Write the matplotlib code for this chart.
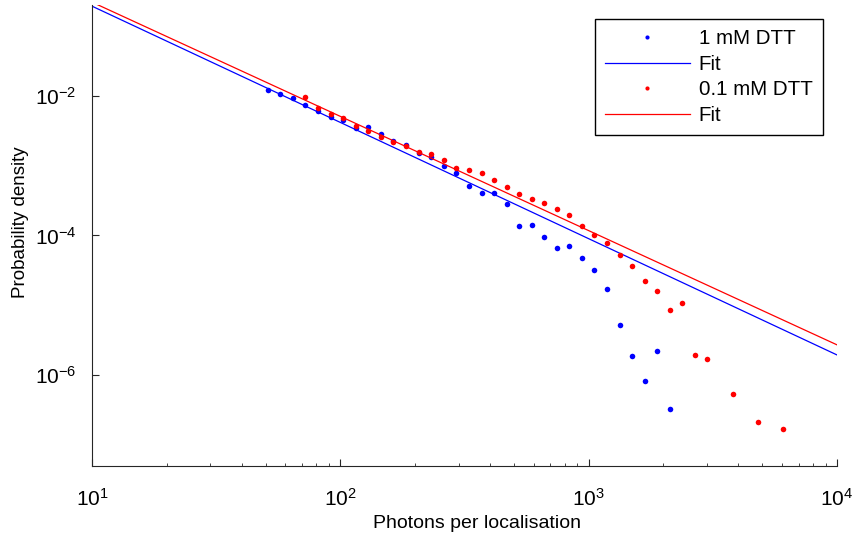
import numpy as np
import matplotlib
matplotlib.use("Agg")
import matplotlib.pyplot as plt
from matplotlib.lines import Line2D
from matplotlib.ticker import LogLocator, NullLocator, LogFormatterMathtext, FixedLocator

plt.rcParams['font.family'] = ['Liberation Sans', 'DejaVu Sans']
plt.rcParams['mathtext.fontset'] = 'custom'
plt.rcParams['mathtext.rm'] = 'Liberation Sans'
plt.rcParams['mathtext.it'] = 'Liberation Sans'

# ---- data ----
x_1mM = [51.2, 57.3, 64.3, 72.3, 81.5, 91.5, 102.8, 115.3, 129.7, 145.9, 163.5,
         183.9, 206.9, 231.9, 260.9, 292.4, 329.8, 371.1, 415.9, 467.9, 526.0,
         590.1, 663.1, 743.9, 836.1, 940.6, 1054, 1186, 1335, 1495, 1682, 1886, 2121]
y_1mM = [0.01197, 0.01068, 0.00921, 0.00745, 0.00602, 0.00503, 0.00456, 0.00347,
         0.00362, 0.00288, 0.00229, 0.00201, 0.00153, 0.001334, 0.000987, 0.000777,
         0.000508, 0.000404, 0.000404, 0.000279, 0.0001383, 0.0001401, 0.0000955,
         0.0000660, 0.0000711, 0.0000475, 0.0000321, 0.0000174, 5.18e-6, 1.857e-6,
         8.19e-7, 2.19e-6, 3.27e-7]

x_01mM = [72.3, 81.5, 91.5, 102.8, 115.3, 129.7, 145.9, 163.5, 183.9, 206.9, 231.9,
          260.9, 292.4, 329.8, 371.1, 415.9, 467.9, 526.0, 590.1, 663.1, 743.9,
          836.1, 940.6, 1054, 1186, 1335, 1495, 1682, 1886, 2121, 2384, 2682, 3006,
          3804, 4797, 6048]
y_01mM = [0.00958, 0.00668, 0.00549, 0.00478, 0.00374, 0.00315, 0.00257, 0.00219,
          0.00190, 0.00155, 0.001447, 0.001201, 0.000937, 0.000857, 0.000795,
          0.000624, 0.000503, 0.000394, 0.000334, 0.000294, 0.000237, 0.000195,
          0.000136, 0.000102, 0.0000785, 0.0000530, 0.0000369, 0.0000226, 0.0000163,
          8.66e-6, 1.075e-5, 1.92e-6, 1.70e-6, 5.35e-7, 2.11e-7, 1.68e-7]

# power-law fits: y = amp * (x/10)^(-alpha)
fit_amp = [0.1925, 0.2198]
fit_alpha = [1.665, 1.636]

labels = ['1 mM DTT', 'Fit', '0.1 mM DTT', 'Fit']
colors = ['#0000ff', '#ff0000']

fig = plt.figure(figsize=(8.53, 5.36), dpi=100)
ax = fig.add_axes([92/853, 1-466/536, (837-92)/853, (466-5)/536])

xf = np.logspace(1, 4, 200)
ax.plot(x_1mM, y_1mM, 'o', color=colors[0], markersize=4.0, markeredgewidth=0)
ax.plot(xf, fit_amp[0]*(xf/10)**(-fit_alpha[0]), '-', color=colors[0], lw=0.9)
ax.plot(x_01mM, y_01mM, 'o', color=colors[1], markersize=4.0, markeredgewidth=0)
ax.plot(xf, fit_amp[1]*(xf/10)**(-fit_alpha[1]), '-', color=colors[1], lw=0.9)

ax.set_xscale('log')
ax.set_yscale('log')
ax.set_xlim(10, 1e4)
ax.set_ylim(5e-8, 0.2)

ax.xaxis.set_major_locator(LogLocator(base=10, numticks=10))
ax.xaxis.set_minor_locator(LogLocator(base=10, subs=np.arange(2, 10), numticks=20))
ax.yaxis.set_major_locator(FixedLocator([1e-6, 1e-4, 1e-2]))
ax.yaxis.set_minor_locator(NullLocator())
ax.xaxis.set_major_formatter(LogFormatterMathtext())
ax.yaxis.set_major_formatter(LogFormatterMathtext())

for s in ['top', 'right']:
    ax.spines[s].set_visible(False)
for s in ['left', 'bottom']:
    ax.spines[s].set_color('#262626')
    ax.spines[s].set_linewidth(0.8)

ax.tick_params(which='major', direction='in', length=5, width=0.8, color='#262626',
               labelsize=15)
ax.tick_params(axis='x', which='major', pad=16)
ax.tick_params(axis='y', which='major', pad=11)
ax.tick_params(which='minor', direction='in', length=2.5, width=0.6, color='#262626')

ax.set_xlabel('Photons per localisation', fontsize=14)
ax.set_ylabel('Probability density', fontsize=13.5)
ax.xaxis.set_label_coords(0.517, -0.107)
ax.yaxis.set_label_coords(-0.085, 0.529)

handles = [Line2D([], [], ls='none', marker='o', color=colors[0], markersize=3, markeredgewidth=0),
           Line2D([], [], ls='-', color=colors[0], lw=0.9),
           Line2D([], [], ls='none', marker='o', color=colors[1], markersize=3, markeredgewidth=0),
           Line2D([], [], ls='-', color=colors[1], lw=0.9)]
leg = ax.legend(handles, labels, loc='upper right',
                bbox_to_anchor=(823/853, 1-19/536), bbox_transform=fig.transFigure,
                borderaxespad=0, fontsize=14.8, handlelength=4.1, handletextpad=0.45,
                labelspacing=0.32, frameon=True, fancybox=False, borderpad=0.5)
leg.get_frame().set_edgecolor('black')
leg.get_frame().set_linewidth(1.0)
leg.get_frame().set_alpha(1)

fig.savefig('out.png', dpi=100)
